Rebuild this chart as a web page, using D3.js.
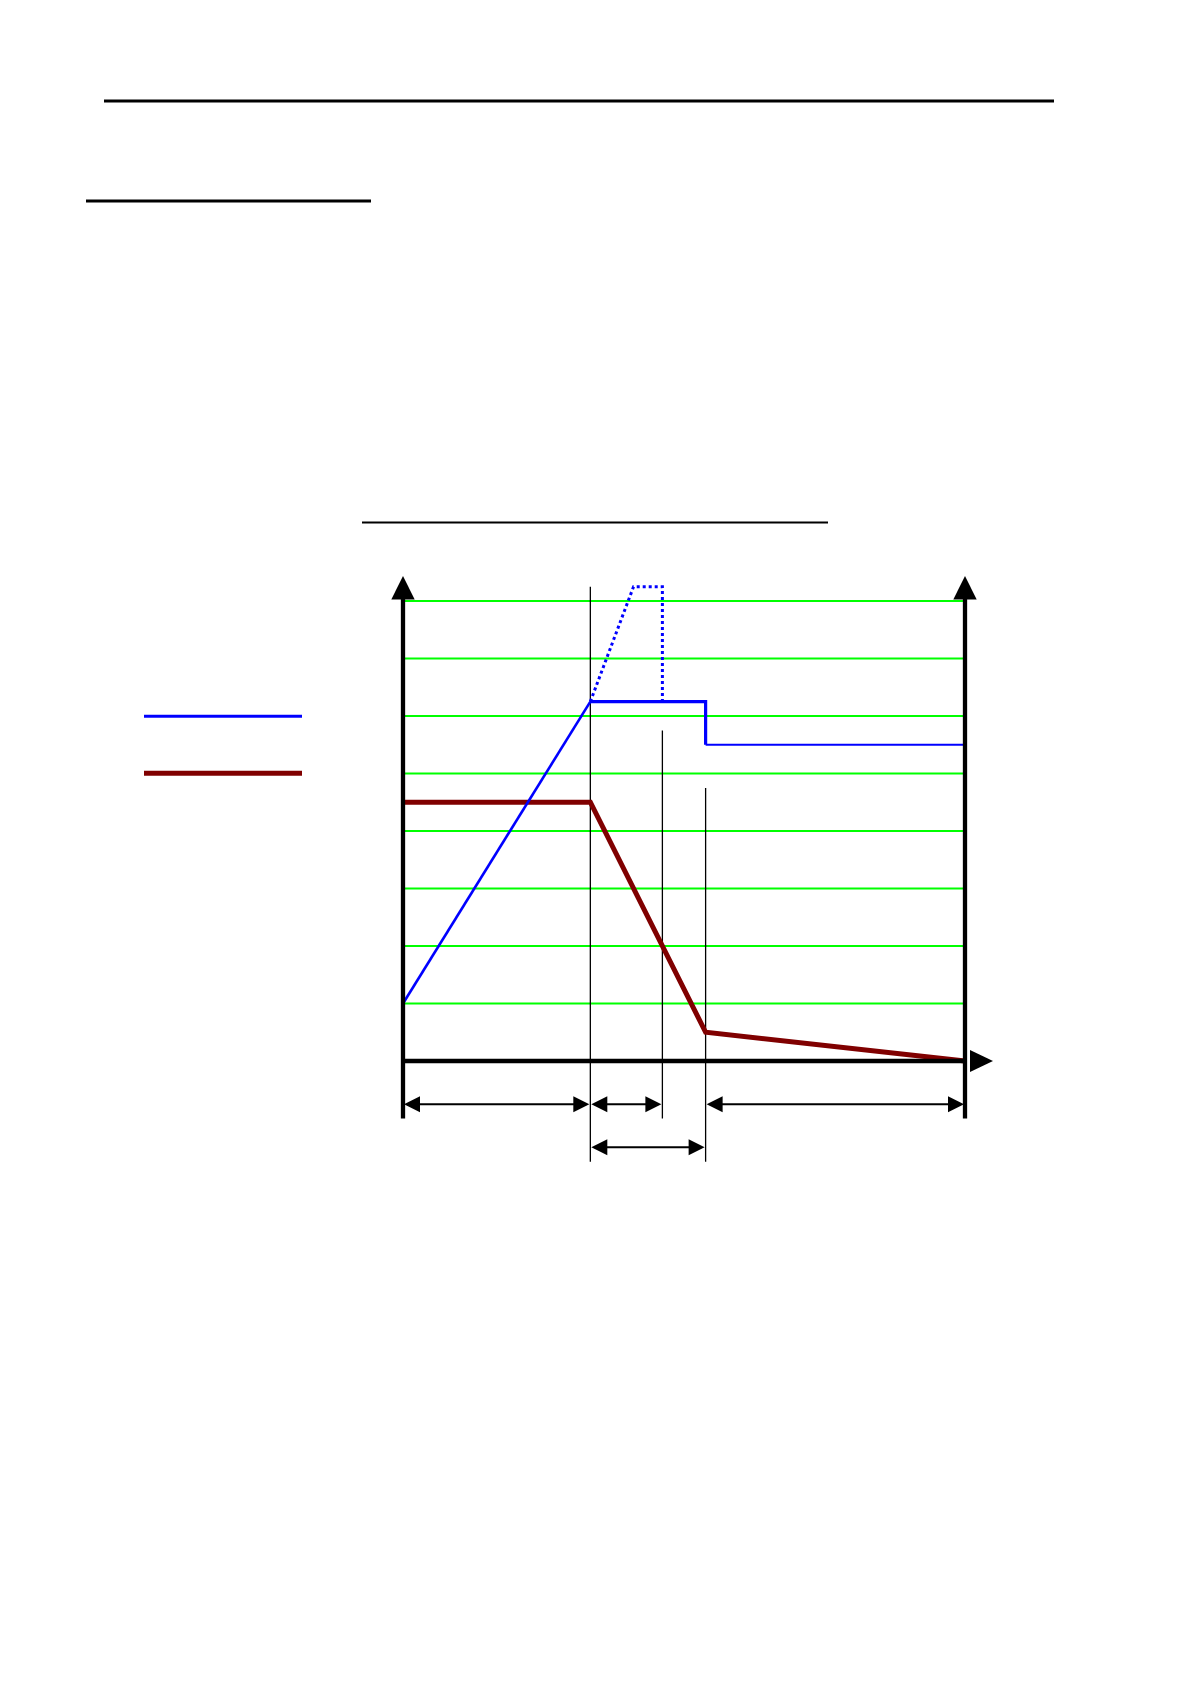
<!DOCTYPE html>
<html>
<head>
<meta charset="utf-8">
<script src="https://cdn.jsdelivr.net/npm/d3@7"></script>
<style>
  html, body { margin: 0; padding: 0; background: #fff; }
  svg { display: block; }
</style>
</head>
<body>
<svg id="chart" width="1191" height="1685"></svg>
<script>
// ---- data (chart units) ----
const gridValues = [1, 2, 3, 4, 5, 6, 7, 8];
const blueSolidA = [[0, 1], [3.25, 6.25]];
const bluePlateau = [[3.25, 6.25], [5.25, 6.25], [5.25, 5.5]];
const blueLow = [[5.25, 5.5], [9.75, 5.5]];
const blueDotted = [[3.25, 6.25], [4.0, 8.25], [4.5, 8.25], [4.5, 6.25]];
const redSeries = [[0, 4.5], [3.25, 4.5], [5.25, 0.5], [9.75, 0]];
const markerLines = [
  { x: 3.25, top: 8.25, bottom: -1.75 },
  { x: 4.5, top: 5.75, bottom: -1.0 },
  { x: 5.25, top: 4.75, bottom: -1.75 }
];
const spans = [
  { from: 0, to: 3.25, level: -0.75 },
  { from: 3.25, to: 4.5, level: -0.75 },
  { from: 5.25, to: 9.75, level: -0.75 },
  { from: 3.25, to: 5.25, level: -1.5 }
];
const legendColors = ["#0000ff", "#800000"];

// ---- scales ----
const svg = d3.select("#chart");
const x = d3.scaleLinear().domain([0, 9.75]).range([403, 965]);
const y = d3.scaleLinear().domain([0, 9]).range([1061, 543.5]);
const line = d3.line().x(d => x(d[0])).y(d => y(d[1]));

// ---- header rules ----
const rules = [
  { x1: 104, x2: 1054, y: 101, w: 3 },
  { x1: 86, x2: 371, y: 201, w: 3 },
  { x1: 362, x2: 828, y: 522.5, w: 2.2 }
];
svg.selectAll("line.rule").data(rules).join("line")
  .attr("class", "rule")
  .attr("x1", d => d.x1).attr("x2", d => d.x2)
  .attr("y1", d => d.y).attr("y2", d => d.y)
  .attr("stroke", "#000").attr("stroke-width", d => d.w);

// ---- gridlines ----
svg.selectAll("line.grid").data(gridValues).join("line")
  .attr("class", "grid")
  .attr("x1", x(0)).attr("x2", x(9.75))
  .attr("y1", d => y(d)).attr("y2", d => y(d))
  .attr("stroke", "#00ff00").attr("stroke-width", 2);

// ---- marker vertical lines ----
svg.selectAll("line.marker").data(markerLines).join("line")
  .attr("x1", d => x(d.x)).attr("x2", d => x(d.x))
  .attr("y1", d => y(d.top)).attr("y2", d => y(d.bottom))
  .attr("stroke", "#000").attr("stroke-width", 1.3);

// ---- series ----
svg.append("path").datum(redSeries).attr("d", line)
  .attr("fill", "none").attr("stroke", "#800000").attr("stroke-width", 5)
  .attr("stroke-linejoin", "miter");
svg.append("path").datum(blueDotted).attr("d", line)
  .attr("fill", "none").attr("stroke", "#0000ff").attr("stroke-width", 3)
  .attr("stroke-dasharray", "3,3");
svg.append("path").datum(blueSolidA).attr("d", line)
  .attr("fill", "none").attr("stroke", "#0000ff").attr("stroke-width", 2.6);
svg.append("path").datum(bluePlateau).attr("d", line)
  .attr("fill", "none").attr("stroke", "#0000ff").attr("stroke-width", 3.2)
  .attr("stroke-linejoin", "miter");
svg.append("path").datum(blueLow).attr("d", line)
  .attr("fill", "none").attr("stroke", "#0000ff").attr("stroke-width", 2.2);

// ---- axes ----
const axW = 4.3;
svg.append("line").attr("x1", x(0)).attr("x2", x(0))
  .attr("y1", y(8) - 2).attr("y2", y(-1)).attr("stroke", "#000").attr("stroke-width", axW);
svg.append("line").attr("x1", x(9.75)).attr("x2", x(9.75))
  .attr("y1", y(8) - 2).attr("y2", y(-1)).attr("stroke", "#000").attr("stroke-width", axW);
svg.append("line").attr("x1", x(0) - 2).attr("x2", x(9.75) + 2)
  .attr("y1", y(0)).attr("y2", y(0)).attr("stroke", "#000").attr("stroke-width", axW);

// axis arrowheads
[x(0), x(9.75)].forEach(ax => {
  svg.append("path")
    .attr("d", `M${ax},${576} L${ax - 11.7},${599.5} L${ax + 11.7},${599.5} Z`)
    .attr("fill", "#000");
});
svg.append("path")
  .attr("d", `M${x(9.75) + 5},${y(0) - 11} L${993},${y(0)} L${x(9.75) + 5},${y(0) + 11} Z`)
  .attr("fill", "#000");

// ---- dimension arrows ----
const ah = 16, hw = 8;
spans.forEach(s => {
  const a = x(s.from), b = x(s.to), yy = y(s.level);
  svg.append("line").attr("x1", a + 4).attr("x2", b - 4).attr("y1", yy).attr("y2", yy)
    .attr("stroke", "#000").attr("stroke-width", 2);
  svg.append("path").attr("d", `M${a + 1},${yy} L${a + 1 + ah},${yy - hw} L${a + 1 + ah},${yy + hw} Z`).attr("fill", "#000");
  svg.append("path").attr("d", `M${b - 1},${yy} L${b - 1 - ah},${yy - hw} L${b - 1 - ah},${yy + hw} Z`).attr("fill", "#000");
});

// ---- legend ----
const legendY = [716.3, 773.3];
const legendW = [3, 5];
svg.selectAll("line.legend").data(legendColors).join("line")
  .attr("class", "legend")
  .attr("x1", 144).attr("x2", 302)
  .attr("y1", (d, i) => legendY[i]).attr("y2", (d, i) => legendY[i])
  .attr("stroke", d => d).attr("stroke-width", (d, i) => legendW[i]);
</script>
</body>
</html>
